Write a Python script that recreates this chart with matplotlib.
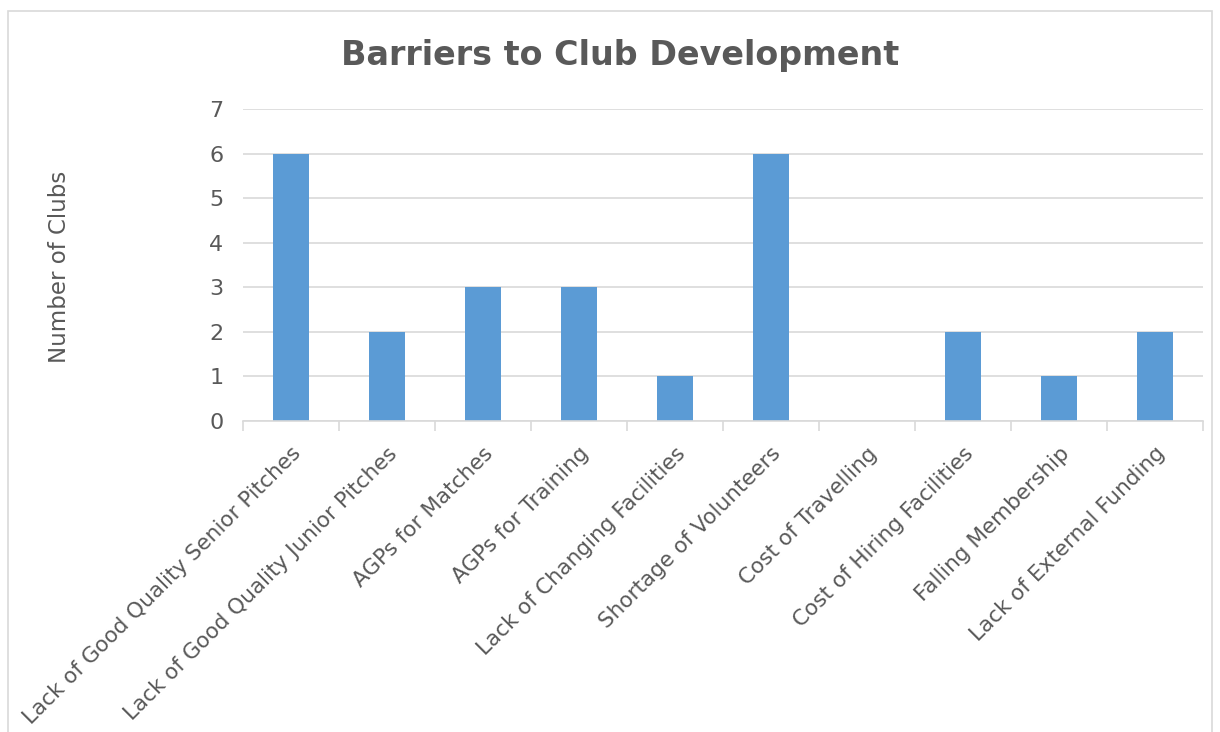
import matplotlib.pyplot as plt
import numpy as np
from matplotlib.patches import Rectangle

barriers = ["Lack of Good Quality Senior Pitches", "Lack of Good Quality Junior Pitches",
            "AGPs for Matches", "AGPs for Training", "Lack of Changing Facilities",
            "Shortage of Volunteers", "Cost of Travelling", "Cost of Hiring Facilities",
            "Falling Membership", "Lack of External Funding"]
clubs = [6, 2, 3, 3, 1, 6, 0, 2, 1, 2]
y_ticks = [0, 1, 2, 3, 4, 5, 6, 7]

grey_text = '#595959'
grid_col = '#D9D9D9'

fig = plt.figure(figsize=(12.2, 7.32), dpi=100)
# outer chart border
fig.patches.append(Rectangle((8 / 1220, -0.05), 1204 / 1220, 1.05 - 11 / 732,
                             transform=fig.transFigure, fill=False,
                             edgecolor='#D9D9D9', lw=1.2))

ax = fig.add_axes([243 / 1220, 1 - 421 / 732, 960 / 1220, 312 / 732])
x = np.arange(len(barriers))
ax.bar(x, clubs, width=0.365, color='#5B9BD5', zorder=3)

ax.set_xlim(-0.5, len(barriers) - 0.5)
ax.set_ylim(0, 7)
ax.set_yticks(y_ticks)
ax.yaxis.grid(True, color=grid_col, lw=1.2, zorder=0)
for s in ['top', 'right', 'left']:
    ax.spines[s].set_visible(False)
ax.spines['bottom'].set_color(grid_col)
ax.spines['bottom'].set_linewidth(1.2)
ax.spines['bottom'].set_zorder(4)

ax.set_xticks(x)
ax.set_xticklabels(barriers, rotation=45, ha='right', va='top',
                   rotation_mode='anchor', fontsize=15.5, color=grey_text)
ax.set_xticks(np.arange(-0.5, len(barriers)), minor=True)
ax.tick_params(axis='x', which='major', length=0, pad=16)
ax.tick_params(axis='x', which='minor', length=7, width=1.2, color=grid_col)
ax.tick_params(axis='y', length=0, labelsize=16, labelcolor=grey_text, pad=14)

fig.text(60 / 1220, 1 - 267 / 732, 'Number of Clubs', rotation=90, ha='center',
         va='center', fontsize=16.5, color=grey_text)
fig.text(0.508, 1 - 56 / 732, 'Barriers to Club Development', ha='center', va='center',
         fontsize=24, fontweight='bold', color=grey_text)

fig.savefig('out.png', dpi=100)
